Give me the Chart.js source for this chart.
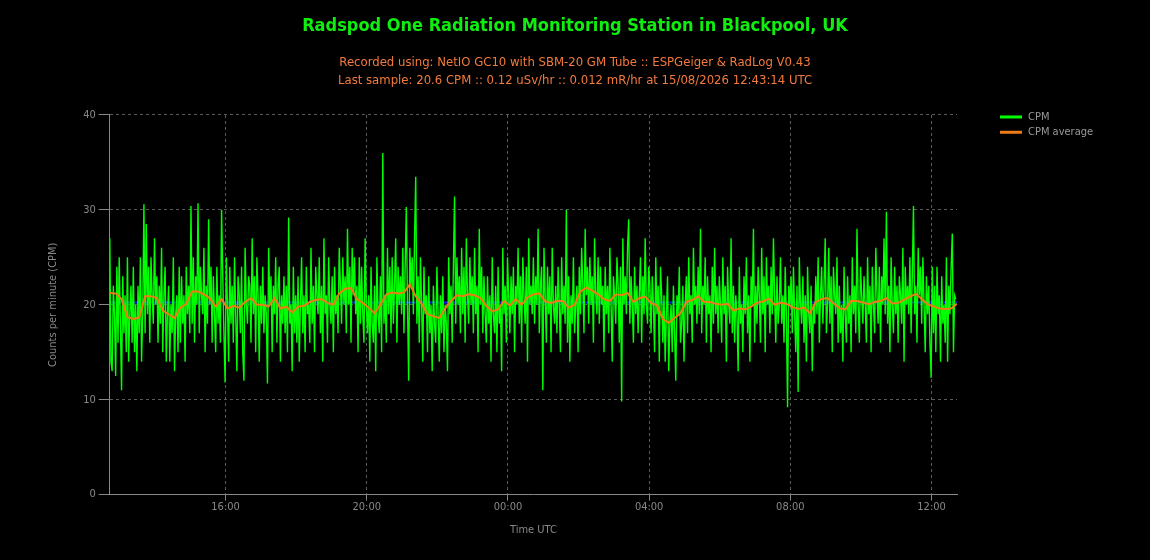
<!DOCTYPE html>
<html><head><meta charset="utf-8">
<script src="https://cdn.jsdelivr.net/npm/chart.js@4.4.1/dist/chart.umd.min.js"></script>
<style>html,body{margin:0;padding:0;background:#000;overflow:hidden;}</style>
</head><body><canvas id="c" width="1150" height="560"></canvas>
<script>
const chartTitle = 'Radspod One Radiation Monitoring Station in Blackpool, UK';
const chartSubtitle = [
  'Recorded using: NetIO GC10 with SBM-20 GM Tube :: ESPGeiger & RadLog V0.43',
  'Last sample: 20.6 CPM :: 0.12 uSv/hr :: 0.012 mR/hr at 15/08/2026 12:43:14 UTC'
];
const seriesLabels = ['CPM', 'CPM average'];
const startHour = 12 + 43/60 + 14/3600;
const endHour = startHour + 24;
const cpmStepMin = 2;
const avgStepMin = 10;
const tickHours = [16, 20, 24, 28, 32, 36];
const meanCpm = 20.23;

const cpmValues = [
27,14,13,22,19,12.5,24,16,25,18,
11,23,17,21,15,25,14,19,22,16,
24,15,20,13,22,17,25,14,19,30.6,
17,28.5,19,24,16,25,21,18,27,20,
23,16,22,18,26,15,21,24,14,19,
22,14,20,17,25,13,19,21,15,24,
16,23,18,21,14,24,19,22,17,30.4,
18,25,16,23,20,30.7,17,24,21,19,
26,15,22,18,29,20,24,16,23,19,
15,24,18,21,16,30,23,17,11.8,25,
20,14,24,18,22,16,25,19,13,23,
21,17,24,15,12,26,20,18,23,22,
16,27,19,23,15,25,21,14,22,18,
24,17,21,19,11.7,26,20,23,15,22,
19,25,16,22,24,14,21,18,23,17,
22,15,29.2,18,20,13,24,17,21,16,
23,14,20,25,17,21,15,24,19,20,
16,26,18,22,15,24,21,19,25,17,
22,14,27,19,21,16,25,20,18,23,
15,24,19,21,17,26,22,18,25,20,
23,17,28,20,24,16,26,21,25,19,
22,15,25,18,24,19,16,27,20,17,
21,14,24,18,16,22,13,25,19,17,
23,15,36,18,21,16,26,19,24,17,
25,18,22,27,16,24,20,23,19,26,
17,24,30.3,20,12,26,22,25,19,27,
33.5,18,23,16,25,20,14,24,19,21,
15,23,17,20,13,22,18,16,24,19,
14,21,17,23,15,20,18,13,25,19,
22,16,24,31.4,18,25,20,23,17,26,
19,24,16,27,21,18,25,20,23,17,
26,19,22,15,28,20,24,17,23,19,
16,23,18,21,14,25,19,17,22,15,
24,18,20,13,26,19,22,16,25,21,
17,23,19,24,15,22,20,26,18,23,
16,25,21,18,24,14,27,20,22,19,
25,18,23,20,28,17,22,24,11,26,
21,16,24,19,23,15,26,20,18,22,
17,24,20,15,25,19,22,18,30,16,
23,14,21,18,25,17,20,22,15,24,
19,26,22,17,28,21,24,18,25,20,
23,16,27,21,19,25,18,24,20,22,
15,24,19,22,17,26,20,14,23,21,
18,25,22,16,24,9.8,27,20,23,19,
26,29,18,23,20,16,24,19,22,17,
21,25,16,23,19,27,20,18,24,22,
17,23,20,15,25,19,22,14,24,21,
16,21,14,19,23,13,18,20,15,22,
17,12,21,19,24,16,18,22,14,20,
23,17,25,19,21,16,26,20,22,18,
24,19,28,17,22,20,25,16,23,19,
21,15,24,18,26,19,22,17,23,20,
16,25,19,22,14,24,20,18,27,17,
22,16,21,19,13,24,18,20,15,23,
19,25,17,21,14,23,20,28,16,22,
18,24,21,16,26,19,23,15,25,20,
22,17,24,19,27,21,16,23,18,20,
25,18,21,16,24,19,9.2,22,20,23,
17,24,19,15,22,10.8,25,20,18,23,
16,21,14,24,19,17,22,13,20,18,
23,19,25,16,21,24,18,22,27,17,
20,26,18,23,15,24,21,19,25,16,
22,17,20,14,24,19,16,23,18,21,
15,25,19,22,17,28,20,16,24,21,
18,23,20,16,25,19,22,15,24,20,
17,26,21,18,24,16,23,20,27,19,
29.8,18,22,15,25,20,17,24,19,22,
16,23,21,18,26,14,24,20,22,19,
25,17,23,30.4,19,22,16,26,21,24,
18,25,20,15,23,19,22,16,12.3,24,
17,22,15,24,19,21,14,23,18,20,
16,25,14,22,19,24,27.5,15,21,20.6
];

const cpmAverage = [
21.25,21.2,20.6,18.7,18.5,18.65,20.9,20.9,20.7,19.4,
19.0,18.6,19.7,20.1,21.4,21.4,21.1,20.7,19.8,20.6,
19.6,19.9,19.7,20.3,20.7,20.0,20.0,19.8,20.7,19.6,
19.8,19.2,19.8,19.9,20.3,20.5,20.6,20.2,20.0,21.2,
21.7,21.75,20.6,20.2,19.7,19.1,20.0,21.1,21.3,21.2,
21.3,22.15,20.9,20.1,19.0,18.8,18.6,19.6,20.4,21.0,
20.9,21.1,21.0,20.7,19.9,19.3,19.5,20.4,19.9,20.6,
20.0,20.8,21.1,21.2,20.35,20.2,20.4,20.4,19.7,20.0,
21.4,21.8,21.5,21.1,20.6,20.4,21.1,21.0,21.25,20.3,
20.7,20.85,20.2,19.95,18.5,18.1,18.6,19.1,20.3,20.5,
20.9,20.3,20.3,20.1,20.0,20.1,19.4,19.6,19.5,19.8,
20.2,20.35,20.65,20.0,20.2,20.1,19.75,19.55,19.7,19.1,
20.3,20.6,20.7,20.15,19.65,19.5,20.4,20.4,20.25,20.05,
20.3,20.4,20.7,20.15,20.2,20.55,20.85,21.15,20.6,20.05,
19.85,19.6,19.55,19.6,20.1
];

const FONT = "Tahoma, 'DejaVu Sans Condensed', 'DejaVu Sans', sans-serif";
Chart.defaults.font.family = FONT;
Chart.defaults.color = '#888';

const cpmPoints = cpmValues.map((v, i) => ({x: startHour + i * cpmStepMin / 60, y: v}));
const avgPoints = cpmAverage.map((v, i) => ({x: startHour + i * avgStepMin / 60, y: v}));
const meanPoints = [{x: startHour, y: meanCpm}, {x: endHour, y: meanCpm}];

function fmtHour(v) {
  const h = ((Math.round(v) % 24) + 24) % 24;
  return String(h).padStart(2, '0') + ':00';
}

const legendPlugin = {
  id: 'sideLegend',
  afterDraw(chart) {
    const ctx = chart.ctx;
    const area = chart.chartArea;
    ctx.save();
    ctx.font = '11px ' + FONT;
    ctx.textBaseline = 'middle';
    ctx.textAlign = 'left';
    const items = chart.data.datasets.filter(d => d.label);
    items.forEach((d, i) => {
      const y = area.top + 2 + i * 15.3;
      const x = area.right + 43;
      ctx.fillStyle = d.borderColor;
      ctx.fillRect(x, y - 1.5, 22, 3);
      ctx.fillStyle = '#999';
      ctx.fillText(d.label, x + 28, y);
    });
    ctx.restore();
  }
};

new Chart(document.getElementById('c'), {
  type: 'line',
  data: {
    datasets: [
      {label: seriesLabels[0], data: cpmPoints, borderColor: '#00ff00', backgroundColor: '#00ff00', borderWidth: 1.4, pointRadius: 0, tension: 0, order: 2},
      {label: seriesLabels[1], data: avgPoints, borderColor: '#ec7c16', backgroundColor: '#ec7c16', borderWidth: 2, pointRadius: 0, tension: 0, order: 1},
      {label: '', data: meanPoints, borderColor: '#0a1eff', backgroundColor: '#0a1eff', borderWidth: 2, pointRadius: 0, tension: 0, order: 3}
    ]
  },
  options: {
    responsive: false,
    animation: false,
    devicePixelRatio: 1,
    layout: {padding: {left: 20, right: 20, top: 0, bottom: 19}},
    plugins: {
      legend: {display: false},
      tooltip: {enabled: false},
      title: {
        display: true, text: chartTitle, color: '#10ee10',
        font: {size: 18, weight: 'bold', family: FONT, lineHeight: 1.2},
        padding: {top: 16, bottom: 0}
      },
      subtitle: {
        display: true, text: chartSubtitle, color: '#f47a3c',
        font: {size: 13, family: FONT, lineHeight: 1.36},
        padding: {top: 16.5, bottom: 25.5}
      }
    },
    scales: {
      x: {
        type: 'linear', min: startHour, max: endHour,
        afterBuildTicks(scale) { scale.ticks = tickHours.map(v => ({value: v})); },
        ticks: {color: '#888', font: {size: 11}, padding: 0, autoSkip: false, maxRotation: 0, callback: v => fmtHour(v)},
        grid: {color: '#5a5a5a', tickColor: '#888', tickLength: 6},
        border: {color: '#888', width: 1, dash: [3, 3]},
        title: {display: true, text: 'Time UTC', color: '#888', font: {size: 11}, padding: {top: 10, bottom: 4}}
      },
      y: {
        min: 0, max: 40,
        ticks: {stepSize: 10, color: '#888', font: {size: 11}, padding: 3},
        grid: {color: '#5a5a5a', tickColor: '#888', tickLength: 11},
        border: {color: '#888', width: 1, dash: [3, 3]},
        title: {display: true, text: 'Counts per minute (CPM)', color: '#888', font: {size: 11}, padding: {top: 27, bottom: 20}}
      },
      legendSpace: {
        type: 'linear', position: 'right', min: 0, max: 40,
        ticks: {display: false},
        grid: {display: false, drawTicks: false},
        border: {display: false},
        afterFit(scale) { scale.width = 173; }
      }
    }
  },
  plugins: [legendPlugin]
});
</script>
</body></html>
